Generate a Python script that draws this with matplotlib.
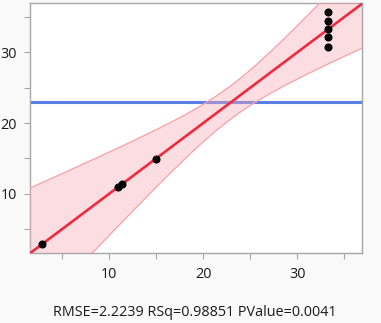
import numpy as np
import matplotlib
matplotlib.use("Agg")
import matplotlib.pyplot as plt
from matplotlib.ticker import MultipleLocator

# Actual by predicted values for the whole model
predicted = [2.85, 10.95, 11.30, 14.93, 33.28, 33.28, 33.28, 33.28, 33.28]
actual = [2.85, 10.95, 11.30, 14.93, 35.70, 34.43, 33.30, 32.20, 30.75]

# Summary statistics reported under the plot
rmse = 2.2239
rsq = 0.98851
pvalue = 0.0041
df_model = 5
df_error = 3

# Critical values at alpha = 0.05
t_crit = 3.1824      # t(0.975, 3)
f_crit = 9.0135      # F(0.95; 5, 3)

x = np.asarray(predicted)
y = np.asarray(actual)
n = len(y)
y_mean = y.mean()
x_mean = x.mean()

slope, intercept = np.polyfit(x, y, 1)
f_stat = (rsq / df_model) / ((1 - rsq) / df_error)

xlim = (1.56, 36.9)
ylim = (1.6, 37.0)

grid = np.linspace(xlim[0] - 1, xlim[1] + 1, 400)
fit = intercept + slope * grid
half = np.sqrt(t_crit ** 2 * rmse ** 2 / n + (f_crit / f_stat) * (grid - x_mean) ** 2)

plt.rcParams["font.family"] = ["Open Sans", "DejaVu Sans"]
bg = "#f9f9f9"
fig = plt.figure(figsize=(3.81, 3.23), dpi=100, facecolor=bg)
ax = fig.add_axes([30 / 381, 1 - 253 / 323, 332 / 381, 250 / 323])
ax.set_facecolor("white")

ax.axhline(y_mean, color="#5a7fe6", lw=2.2, zorder=2)
ax.fill_between(grid, fit - half, fit + half, color="#f9aab5", alpha=0.40,
                lw=0, zorder=3)
ax.plot(grid, fit + half, color="#f7a0aa", lw=0.9, zorder=3)
ax.plot(grid, fit - half, color="#f7a0aa", lw=0.9, zorder=3)
ax.plot(grid, fit, color="#ee2a3e", lw=1.9, zorder=4)
ax.plot(x, y, "o", color="black", ms=4.8, zorder=5)

ax.set_xlim(*xlim)
ax.set_ylim(*ylim)
ax.xaxis.set_major_locator(MultipleLocator(10))
ax.xaxis.set_minor_locator(MultipleLocator(5))
ax.yaxis.set_major_locator(MultipleLocator(10))
ax.yaxis.set_minor_locator(MultipleLocator(5))

for side in ax.spines.values():
    side.set_color("#a6a6a6")
    side.set_linewidth(1.0)
ax.tick_params(which="both", direction="out", length=4, width=0.8,
               color="#a6a6a6", labelcolor="#1a1a1a", labelsize=10.4)
ax.tick_params(axis="x", which="major", pad=6)
ax.tick_params(axis="y", which="major", pad=5.5)

fig.text(194.5 / 381, 1 - 313 / 323,
         f"RMSE={rmse} RSq={rsq} PValue={pvalue}",
         ha="center", va="center", fontsize=10.4, color="#1a1a1a")

fig.savefig("out.png", dpi=100, facecolor=bg)
